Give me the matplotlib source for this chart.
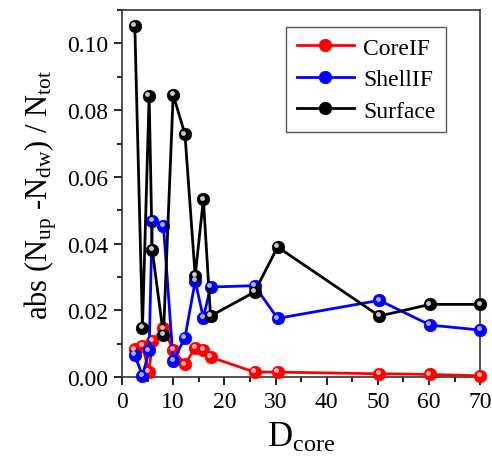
import matplotlib
matplotlib.use('Agg')
import matplotlib.pyplot as plt
import matplotlib.transforms as mtransforms
from matplotlib.ticker import MultipleLocator

# fonts: Times-like serif, subscripts via mathtext
matplotlib.rcParams['font.family'] = 'Liberation Serif'
matplotlib.rcParams['mathtext.fontset'] = 'custom'
matplotlib.rcParams['mathtext.rm'] = 'Liberation Serif'
matplotlib.rcParams['mathtext.it'] = 'Liberation Serif:italic'

# data
d_core = [2.5, 4.0, 5.3, 5.9, 8.1, 10.0, 12.3, 14.3, 15.9, 17.3, 25.9, 30.4, 50.3, 60.2, 70.0]
core_if = [0.0083, 0.0093, 0.0015, 0.0108, 0.0146, 0.0082, 0.0038, 0.0088, 0.0082, 0.0060,
           0.0015, 0.0015, 0.0010, 0.0008, 0.0004]
shell_if = [0.0066, 0.0004, 0.0080, 0.0468, 0.0453, 0.0048, 0.0118, 0.0288, 0.0178, 0.0270,
            0.0274, 0.0176, 0.0230, 0.0156, 0.0141]
surface = [0.1053, 0.0148, 0.0843, 0.0381, 0.0126, 0.0846, 0.0728, 0.0303, 0.0533, 0.0183,
           0.0255, 0.0390, 0.0183, 0.0218, 0.0218]

names = ['CoreIF', 'ShellIF', 'Surface']
colors = ['red', 'blue', 'black']
highlights = ['#ffb0b0', '#b0b0ff', '#c8c8c8']

fig = plt.figure(figsize=(4.92, 4.6), dpi=100)
ax = fig.add_axes([0.248, 0.178, 0.728, 0.798])

# small offset for the shiny spot on each ball
shine = ax.transData + mtransforms.ScaledTranslation(-1.2 / 72, 1.2 / 72, fig.dpi_scale_trans)

for ys, name, c, hc in zip([core_if, shell_if, surface], names, colors, highlights):
    ax.plot(d_core, ys, '-o', color=c, lw=2, ms=9, mec=c, mew=0.5, label=name, clip_on=False, zorder=3)
    ax.plot(d_core, ys, 'o', color=hc, ms=3.5, mew=0, clip_on=False, zorder=4, transform=shine)

ax.set_xlim(0, 70)
ax.set_ylim(0, 0.11)
ax.xaxis.set_major_locator(MultipleLocator(10))
ax.xaxis.set_minor_locator(MultipleLocator(5))
ax.yaxis.set_major_locator(MultipleLocator(0.02))
ax.yaxis.set_minor_locator(MultipleLocator(0.01))
ax.yaxis.set_major_formatter(matplotlib.ticker.FormatStrFormatter('%.2f'))
ax.tick_params(which='major', direction='out', length=6, width=1.2, labelsize=17, pad=4)
ax.tick_params(which='minor', direction='out', length=3.5, width=1.2)
for s in ax.spines.values():
    s.set_linewidth(1.2)
    s.set_color('#333333')

ax.set_xlabel(r'D$_{\mathrm{core}}$', fontsize=25, labelpad=6)
ax.set_ylabel(r'abs (N$_{\mathrm{up}}$ -N$_{\mathrm{dw}}$) / N$_{\mathrm{tot}}$', fontsize=22, labelpad=6)

# legend with the same ball markers
handles, labels = ax.get_legend_handles_labels()
leg = ax.legend(handles, labels, loc='upper right', bbox_to_anchor=(0.905, 0.955), borderaxespad=0,
                fontsize=17, fancybox=False, edgecolor='#555555', framealpha=1, handlelength=2.4,
                handletextpad=0.4, borderpad=0.45, labelspacing=0.42)
leg.get_frame().set_linewidth(1.0)

fig.savefig('out.png', dpi=100)
